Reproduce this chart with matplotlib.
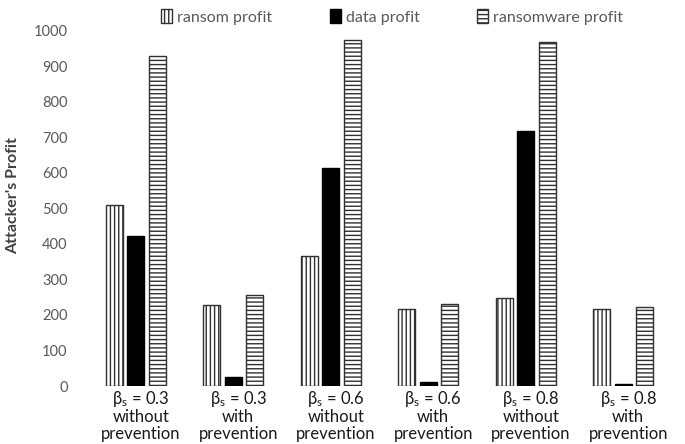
import matplotlib
matplotlib.use("Agg")
import matplotlib.pyplot as plt
import matplotlib.transforms as mtransforms
from matplotlib.patches import Patch
import numpy as np

categories = [
    "$\\mathrm{\\beta}_\\mathrm{s}$ = 0.3\nwithout\nprevention",
    "$\\mathrm{\\beta}_\\mathrm{s}$ = 0.3\nwith\nprevention",
    "$\\mathrm{\\beta}_\\mathrm{s}$ = 0.6\nwithout\nprevention",
    "$\\mathrm{\\beta}_\\mathrm{s}$ = 0.6\nwith\nprevention",
    "$\\mathrm{\\beta}_\\mathrm{s}$ = 0.8\nwithout\nprevention",
    "$\\mathrm{\\beta}_\\mathrm{s}$ = 0.8\nwith\nprevention",
]
ransom_profit = [510, 227, 366, 218, 247, 218]
data_profit = [421, 25, 613, 10, 719, 6]
ransomware_profit = [930, 255, 975, 232, 967, 222]
series_names = ["ransom profit", "data profit", "ransomware profit"]
yticks = [0, 100, 200, 300, 400, 500, 600, 700, 800, 900, 1000]

plt.rcParams['font.family'] = ['Lato', 'DejaVu Sans']
plt.rcParams['mathtext.fontset'] = 'custom'
plt.rcParams['mathtext.rm'] = 'Lato'
plt.rcParams['mathtext.it'] = 'Lato:italic'
plt.rcParams['hatch.linewidth'] = 1.0
plt.rcParams['hatch.color'] = '#303030'

gray = '#595959'
fig = plt.figure(figsize=(6.85, 4.44), dpi=100)
ax = fig.add_axes([87/685, 1 - 386/444, (672 - 87)/685, (386 - 30.7)/444])

x = np.arange(len(categories))
w = 0.175
step = 0.22
edge = '#303030'
ax.bar(x - step, ransom_profit, w, facecolor='white', edgecolor=edge, hatch='||||', linewidth=1.0, label=series_names[0])
ax.bar(x, data_profit, w, facecolor='black', edgecolor='black', linewidth=1.0, label=series_names[1])
ax.bar(x + step, ransomware_profit, w, facecolor='white', edgecolor=edge, hatch='----', linewidth=1.0, label=series_names[2])

ax.set_xlim(-0.5, len(categories) - 0.5)
ax.set_ylim(0, 1000)
ax.set_yticks(yticks)
ax.set_xticks(x)
ax.set_xticklabels(categories, fontsize=12, color='#1a1a1a', linespacing=1.05)
ax.tick_params(axis='y', length=0, pad=14, labelsize=10.5, labelcolor=gray)
ax.tick_params(axis='x', length=0, pad=2)
offset = mtransforms.ScaledTranslation(5/100, 0, fig.dpi_scale_trans)
for lab in ax.get_xticklabels():
    lab.set_transform(lab.get_transform() + offset)
for s in ax.spines.values():
    s.set_visible(False)

ax.set_ylabel("Attacker's Profit", fontsize=11.5, fontweight='bold', color='#404040')
ax.yaxis.set_label_coords(-0.1145, 0.535)

handles = [
    Patch(facecolor='white', edgecolor=edge, hatch='||||', label=series_names[0]),
    Patch(facecolor='black', edgecolor='black', label=series_names[1]),
    Patch(facecolor='white', edgecolor=edge, hatch='----', label=series_names[2]),
]
leg = fig.legend(handles=handles, loc='center', bbox_to_anchor=(392/685, 1 - 17/444), ncol=3,
                 frameon=False, fontsize=11.5, handlelength=0.7, handleheight=1.0,
                 handletextpad=0.3, columnspacing=3.6, borderaxespad=0)
for t in leg.get_texts():
    t.set_color(gray)

fig.savefig("out.png", dpi=100)
